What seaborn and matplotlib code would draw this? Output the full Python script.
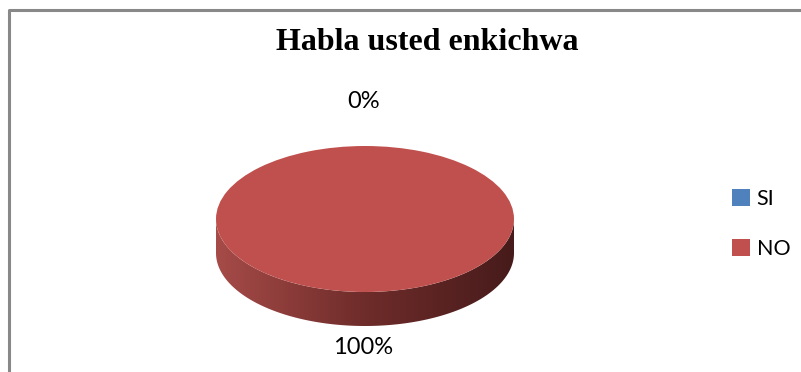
import numpy as np
import matplotlib
matplotlib.use("Agg")
import matplotlib.pyplot as plt
from matplotlib.path import Path
from matplotlib.patches import PathPatch
from matplotlib.colors import LinearSegmentedColormap
import seaborn as sns

# Survey answers
categories = ["SI", "NO"]
counts = [0, 100]
slice_colors = ["#4F81BD", "#C0504D"]
side_colors = ["#3A5F8C", "#A64B48"]
side_dark = ["#1F3350", "#471B1B"]
title = "Habla usted enkichwa"

sns.set_theme(style="white")
plt.rcParams["font.family"] = ["Lato", "DejaVu Sans"]

W, H = 801, 372
fig = plt.figure(figsize=(W / 100, H / 100), dpi=100)
fig.patch.set_facecolor("white")

# Background layer in pixel coordinates: frame, title, labels
bg = fig.add_axes([0, 0, 1, 1])
bg.set_xlim(0, W)
bg.set_ylim(H, 0)
bg.axis("off")
bg.plot([8.5, 8.5, W], [H, 9.5, 9.5], color="#888888", lw=2.2, solid_capstyle="butt")
bg.text(427.5, 42, title, ha="center", va="center", fontsize=23,
        fontweight="bold", family=["Liberation Serif", "DejaVu Serif"], color="black")

# Pie geometry (pixels): ellipse of the top face and the depth of the rim
cx, cy, rx, ry, depth = 365, 219, 149, 73, 34
d = depth / ry
pie_ax = fig.add_axes([(cx - rx) / W, (H - (cy + ry + depth)) / H,
                       2 * rx / W, (2 * ry + depth) / H])
pie_ax.set_zorder(2)

wedges, _ = pie_ax.pie(counts, colors=slice_colors, startangle=90,
                       counterclock=False, radius=1, center=(0, 0),
                       wedgeprops=dict(linewidth=0))
for w in wedges:
    w.set_zorder(3)
pie_ax.set_aspect("auto")
pie_ax.set_xlim(-1, 1)
pie_ax.set_ylim(-1 - d, 1)
pie_ax.axis("off")

# Front rim for each slice: the part of its arc facing the viewer (180..360 deg)
total = float(sum(counts))
start = 90.0
for val, c_light, c_dark in zip(counts, side_colors, side_dark):
    sweep = 360.0 * val / total
    a0, a1 = start - sweep, start
    start -= sweep
    if sweep <= 0:
        continue
    spans = []
    for k in (-360, 0, 360):
        lo, hi = max(a0, 180 + k), min(a1, 360 + k)
        if hi > lo:
            spans.append((lo, hi))
    for lo, hi in spans:
        t = np.radians(np.linspace(lo, hi, 200))
        xs, ys = np.cos(t), np.sin(t)
        verts = np.concatenate([np.column_stack([xs, ys]),
                                np.column_stack([xs[::-1], ys[::-1] - d])])
        path = Path(np.vstack([verts, verts[:1]]), closed=True)
        patch = PathPatch(path, facecolor="none", edgecolor="none")
        pie_ax.add_patch(patch)
        cmap = LinearSegmentedColormap.from_list("rim", [c_light, "#6E2C2A", c_dark])
        grad = np.linspace(0, 1, 256).reshape(1, -1)
        im = pie_ax.imshow(grad, cmap=cmap, extent=(-1, 1, -1 - d, 0),
                           aspect="auto", zorder=1, interpolation="bilinear")
        im.set_clip_path(patch)
pie_ax.set_xlim(-1, 1)
pie_ax.set_ylim(-1 - d, 1)

# Percentage labels
pcts = [f"{v / total:.0%}" for v in counts]
bg.text(363.5, 102, pcts[0], ha="center", va="center", fontsize=17, color="black")
bg.text(363.5, 348, pcts[1], ha="center", va="center", fontsize=17, color="black")

# Legend
leg = bg.legend(wedges, categories, loc="upper left", bbox_to_anchor=(732, 189),
                bbox_transform=bg.transData, frameon=False, fontsize=15.5,
                handlelength=0.85, handleheight=0.85, handletextpad=0.3,
                labelspacing=1.4, borderpad=0, borderaxespad=0)
for t in leg.get_texts():
    t.set_color("black")

fig.savefig("out.png", dpi=100, facecolor="white")
